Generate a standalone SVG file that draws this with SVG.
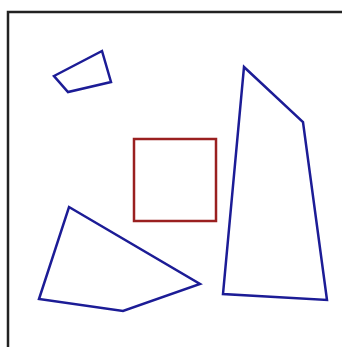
<svg xmlns="http://www.w3.org/2000/svg" width="342" height="347" viewBox="0 0 342 347">
<style>
.frame{fill:none;stroke:#222;stroke-width:2.5}
.poly{fill:none;stroke:#1c1c96;stroke-width:2.5;stroke-linejoin:miter}
.sq{fill:none;stroke:#9a2020;stroke-width:2.5}
</style>
<rect width="342" height="347" fill="#fff"/>
<path class="frame" d="M8,350 V12 H345"/>
<g id="small-quad"><polygon class="poly" points="54,76 102,51 111,82 68,92"/></g>
<g id="right-poly"><polygon class="poly" points="244,67 303,122 327,300 223,294"/></g>
<g id="left-poly"><polygon class="poly" points="69,207 200,284 123,311 39,299"/></g>
<g id="square"><rect class="sq" x="134" y="139" width="82" height="82"/></g>
</svg>
